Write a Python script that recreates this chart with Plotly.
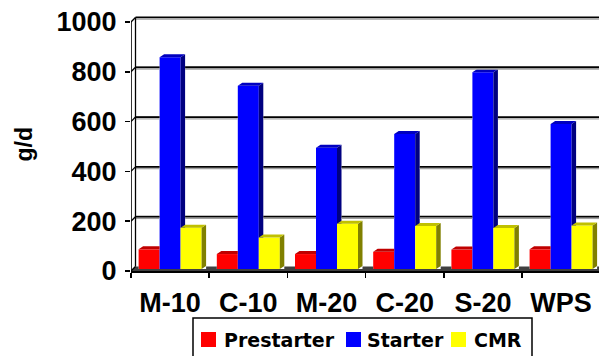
import plotly.graph_objects as go

categories = ["M-10", "C-10", "M-20", "C-20", "S-20", "WPS"]
series_names = ["Prestarter", "Starter", "CMR"]
prestarter = [79, 60, 60, 69, 78, 79]
starter = [850, 736, 487, 542, 790, 582]
cmr = [166, 126, 182, 173, 165, 175]
y_ticks = [0, 200, 400, 600, 800, 1000]

series_values = [prestarter, starter, cmr]
front_colors = ["#FF0000", "#0000FF", "#FFFF00"]
top_colors = ["#C00000", "#0000C0", "#C0C000"]
side_colors = ["#800000", "#000080", "#808000"]

# ---- geometry (pixel based) ----
W, H = 599, 356
L, R, T, B = 131, 599, 12, 271
PX_CAT = 78.2
Y_MAX = 1040
x_range = [-0.5, -0.5 + (W - L) / PX_CAT]
y_scale = (B - T) / Y_MAX  # px per unit


def px_x(p):
    return p / PX_CAT


def px_y(p):
    return p / y_scale


def paper_x(px):
    return (px - L) / (R - L)


def paper_y(py):
    return (B - py) / (B - T)


WDX, WDY = px_x(4.5), px_y(4.5)      # wall depth
BDX, BDY = px_x(4.5), px_y(3.0)      # bar depth
BASE = px_y(2.0)                     # bar plane offset
BW = px_x(21)                        # bar width
x_left = x_range[0]
x_end = x_range[1]


def clip(poly, inside, intersect):
    out = []
    n = len(poly)
    for k in range(n):
        cur, prev = poly[k], poly[k - 1]
        if inside(cur):
            if not inside(prev):
                out.append(intersect(prev, cur))
            out.append(cur)
        elif inside(prev):
            out.append(intersect(prev, cur))
    return out


def ix_x(xc):
    def f(p, q):
        t = (xc - p[0]) / (q[0] - p[0])
        return (xc, p[1] + t * (q[1] - p[1]))
    return f


def ix_y(yc):
    def f(p, q):
        t = (yc - p[1]) / (q[1] - p[1])
        return (p[0] + t * (q[0] - p[0]), yc)
    return f


def visible_parts(poly, xr, nt):
    """poly minus the front face of the neighbouring bar (x >= xr, y <= nt)."""
    if nt is None:
        return [poly]
    parts = []
    a = clip(poly, lambda p: p[0] <= xr + 1e-12, ix_x(xr))
    if len(a) >= 3:
        parts.append(a)
    b = clip(poly, lambda p: p[0] >= xr - 1e-12, ix_x(xr))
    b = clip(b, lambda p: p[1] >= nt, ix_y(nt)) if len(b) >= 3 else []
    if len(b) >= 3:
        parts.append(b)
    return parts


def flatten(polys):
    xs, ys = [], []
    for p in polys:
        xs += [q[0] for q in p] + [p[0][0], None]
        ys += [q[1] for q in p] + [p[0][1], None]
    return xs, ys


# bar boxes (left x, right x, top value) for occlusion of the back wall/floor
bar_boxes = []
for s, vals in enumerate(series_values):
    off = -1.5 * BW + s * BW
    for i, v in enumerate(vals):
        bar_boxes.append((i + off, i + off + BW, BASE + v))


def free_segments(y, xa, xb):
    cov = []
    for xl, xr, t in bar_boxes:
        if BASE - 1e-9 <= y <= t:
            cov.append((xl, xr + BDX))
        elif t < y <= t + BDY:
            cov.append((xl + BDX * (y - t) / BDY, xr + BDX))
    cov.sort()
    segs, cur = [], xa
    for a, b in cov:
        if b <= cur:
            continue
        if a > cur:
            segs.append((cur, min(a, xb)))
        cur = max(cur, b)
        if cur >= xb:
            break
    if cur < xb:
        segs.append((cur, xb))
    return [sg for sg in segs if sg[1] - sg[0] > 1e-6]


fig = go.Figure()

# ---- bars: front faces as bars, top/side faces as filled polygons ----
face_sets = []
for s, (name, vals) in enumerate(zip(series_names, series_values)):
    off = -1.5 * BW + s * BW
    fig.add_trace(go.Bar(
        x=list(range(len(categories))), y=vals, base=BASE, width=BW, offset=off,
        name=name, marker=dict(color=front_colors[s], line=dict(width=0)),
        hoverinfo="skip", showlegend=False,
    ))
    tops, sides = [], []
    for i, v in enumerate(vals):
        xl = i + off
        xr = xl + BW
        b = BASE
        t = BASE + v
        nt = BASE + series_values[s + 1][i] if s + 1 < len(series_values) else None
        top = [(xl, t), (xl + BDX, t + BDY), (xr + BDX, t + BDY), (xr, t)]
        side = [(xr, b), (xr + BDX, b + BDY), (xr + BDX, t + BDY), (xr, t)]
        tops += visible_parts(top, xr, nt)
        sides += visible_parts(side, xr, nt)
    face_sets.append((sides, side_colors[s]))
    face_sets.append((tops, top_colors[s]))
for polys, col in face_sets:
    xs, ys = flatten(polys)
    fig.add_trace(go.Scatter(x=xs, y=ys, mode="lines", fill="toself", fillcolor=col,
                             line=dict(width=0), showlegend=False, hoverinfo="skip"))

# ---- 3D frame as shapes (drawn only where the bars do not hide it) ----
shapes = []


def seg(x0, y0, x1, y1, color="black", width=1.3):
    shapes.append(dict(type="line", xref="x", yref="y", layer="above",
                       x0=x0, y0=y0, x1=x1, y1=y1, line=dict(color=color, width=width)))


# floor: strip under the bars plus visible pieces between the groups
fl = x_left + WDX * BASE / WDY
shapes.append(dict(type="path", xref="x", yref="y", layer="above",
                   path=f"M{x_left},0 L{x_end},0 L{x_end},{BASE} L{fl},{BASE} Z",
                   fillcolor="#404040", line=dict(width=0)))
for a, b in free_segments((BASE + WDY) / 2, fl, x_end):
    a_top = max(a, x_left + WDX)
    shapes.append(dict(type="path", xref="x", yref="y", layer="above",
                       path=f"M{a},{BASE} L{b},{BASE} L{b},{WDY} L{a_top},{WDY} Z",
                       fillcolor="#404040", line=dict(width=0)))

# back-wall gridlines with soft shadow
for v in y_ticks[1:]:
    yg = v + WDY
    ysh = yg - px_y(1.8)
    for a, b in free_segments(ysh, x_left + WDX, x_end):
        seg(a, ysh, b, ysh, "#A0A0A0", 1.2)
    for a, b in free_segments(yg, x_left + WDX, x_end):
        seg(a, yg, b, yg, "black", 1.8)

# left wall diagonals, back-left edge, front y axis line
for v in y_ticks:
    seg(x_left, v, x_left + WDX, v + WDY)
seg(x_left + WDX, WDY, x_left + WDX, 1000 + WDY)
seg(x_left, 0, x_left, 1000, "black", 1.6)

# legend (box, swatches, labels)
LEG_BOX = (193, 318, 532, 370)
LEG_SWATCH_X = [201, 346, 451]
LEG_TEXT_X = [222, 365, 472]
LEG_Y0, LEG_Y1 = 332, 347
shapes.append(dict(type="rect", xref="paper", yref="paper", layer="above",
                   x0=paper_x(LEG_BOX[0]), x1=paper_x(LEG_BOX[2]),
                   y0=paper_y(LEG_BOX[1]), y1=paper_y(LEG_BOX[3]),
                   fillcolor="white", line=dict(color="black", width=1.5)))
annotations = []
for s, name in enumerate(series_names):
    shapes.append(dict(type="rect", xref="paper", yref="paper", layer="above",
                       x0=paper_x(LEG_SWATCH_X[s]), x1=paper_x(LEG_SWATCH_X[s] + 15),
                       y0=paper_y(LEG_Y0), y1=paper_y(LEG_Y1),
                       fillcolor=front_colors[s], line=dict(width=0)))
    annotations.append(dict(
        text=name, showarrow=False, xref="paper", yref="paper",
        x=paper_x(LEG_TEXT_X[s]), y=paper_y((LEG_Y0 + LEG_Y1) / 2),
        xanchor="left", yanchor="middle",
        font=dict(size=19, weight="bold", family="DejaVu Sans, sans-serif"),
    ))

annotations.append(dict(
    text="g/d", textangle=-90, showarrow=False, xref="paper", yref="paper",
    x=paper_x(23.5), y=paper_y(144), xanchor="center", yanchor="middle",
    font=dict(size=23, weight="bold", family="Liberation Sans, Arial, sans-serif"),
))

fig.update_layout(
    width=W, height=H,
    margin=dict(l=L, r=W - R, t=T, b=H - B, pad=0, autoexpand=False),
    paper_bgcolor="white", plot_bgcolor="white",
    barmode="overlay", showlegend=False,
    shapes=shapes, annotations=annotations,
    font=dict(family="Liberation Sans, Arial, sans-serif", color="black"),
    xaxis=dict(
        range=x_range, tickvals=list(range(len(categories))), ticktext=categories,
        ticks="", showgrid=False, zeroline=False,
        showline=True, linecolor="black", linewidth=2,
        tickfont=dict(size=27, weight="bold", family="Liberation Sans, Arial, sans-serif"),
        ticklabelstandoff=7,
        minor=dict(tickvals=[i - 0.5 for i in range(len(categories) + 1)],
                   ticks="outside", ticklen=5, tickwidth=1.5, tickcolor="black", showgrid=False),
        fixedrange=True,
    ),
    yaxis=dict(
        range=[0, Y_MAX], tickvals=y_ticks, ticks="outside", ticklen=5, tickwidth=1.5,
        tickcolor="black", showgrid=False, zeroline=False, showline=False,
        tickfont=dict(size=27, weight="bold", family="Liberation Sans, Arial, sans-serif"),
        ticklabelstandoff=3, fixedrange=True,
    ),
)

fig.write_html("out.html", config={"displayModeBar": False, "staticPlot": True},
               post_script="document.body.style.margin='0';document.body.style.overflow='hidden';")
